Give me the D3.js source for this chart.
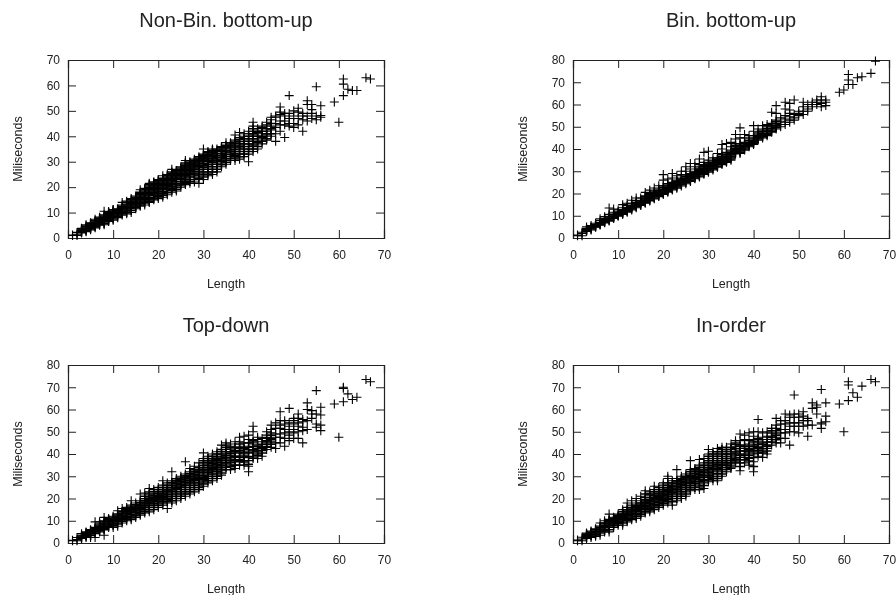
<!DOCTYPE html>
<html>
<head>
<meta charset="utf-8">
<script src="https://cdnjs.cloudflare.com/ajax/libs/d3/7.8.5/d3.min.js"></script>
<style>
  html, body { margin: 0; padding: 0; background: #fff; }
  svg { display: block; filter: blur(0.3px); }
  text { font-family: "Liberation Sans", Arial, sans-serif; fill: #222; }
</style>
</head>
<body>
<svg id="chart" width="896" height="595"></svg>
<script>
// sentence lengths seen on the x axis, one row of timings per length below
var lengths = [1,2,3,4,5,6,7,8,9,10,11,12,13,14,15,16,17,18,19,20,21,22,23,24,25,26,27,28,29,30,
  31,32,33,34,35,36,37,38,39,40,41,42,43,44,45,46,47,48,49,50,51,52,53,54,55,56,59,60,61,62,63,64,66,67];

// the thick middle of each cloud, lengths 3 to 45
var coreLengths = [3,4,5,6,7,8,9,10,11,12,13,14,15,16,17,18,19,20,21,22,23,24,25,26,27,28,29,30,
  31,32,33,34,35,36,37,38,39,40,41,42,43,44,45];

var nonBinMs = [
  [1,1.2],[1,1.5,2.2],[2,2.6,3.2,3.8],[2.5,3.2,4,4.8,5.2],[3.2,4,4.6,5.4,6],
  [4,4.8,5.6,6.4,7.4],[5,5.8,6.6,7.4,8.2],[5.2,6.2,7,7.8,8.6,10.5],[6.5,7.2,8,8.8,9.6,10.4],[7,8,9,9.8,10.6,11.2],
  [8,9,10,10.8,11.5],[9,10,11,12,13,14],[9.5,10.5,11.5,12.5,13.4,14.5],[10,11.5,12.5,13.5,14.5,15.5],[11.5,12.5,13.5,14.5,15.5,16.5],
  [12.5,13.5,14.5,15.5,16.5,17.5,19],[13,14.5,15.5,16.5,17.5,18.5,19.5],[14,15,16.5,17.5,18.5,19.5,20.5,21.5],[15,16,17.5,18.5,19.5,20.5,21.5],[15.5,17,18,19,20,21,22,23],
  [16,17.5,19,20,21,22,23,24.5],[17,18.5,20,21,22,23,24,25],[18,19.5,21,22,23,24,25,27],[18.5,20,21.5,23,24,25,26],[20,21.5,23,24,25,26,27,28],
  [21,22.5,24,25,26,27,28,29,30.5],[21.5,23,25,26,27,28,29,30],[22,24,25.5,27,28,29,30,31],[21.5,24.5,26,27.5,29,30,31,32],[23,25,27,28.5,30,31,32,33,35],
  [24.5,26,28,29.5,31,32,33,34],[25,27,29,30.5,32,33,34,35],[26,28,30,31,32.5,34,35],[28,29.5,31,32.5,34,35,36],[29,30.5,32,33.5,35,36,37.5],
  [30.5,32,33.5,35,36.5,37.5],[30.5,32.5,34,35.5,37,38.5,40.5],[31,33,35,36.5,38,39.5,41.5],[32,34,36,38,40,41],[30,33,35,37,39,41,42],
  [34,36.5,38,40.5,42,44,45.5],[35,37.5,39,41.5,43],[37,39.5,41,43.5,44],[38.5,40.5,42,44.5,45.5],[40,42.5,44,46.5,47.5],
  [38,41,43.5,45,47.5,48],[42,44.5,46,48.5,49.5,51.5],[39.5,44.5,46,48,49],[44,45,47,49,56],[43.5,45,48,50],
  [44.5,47,49.5,51],[42,46.5,48,49],[46,48,52.5,54],[47,49,50.5,52.5],[46.5,48,59.5],[47.5,48.2,52],
  [53.5],[45.5],[56,60.5,62.5],[58.5],[58],[58],[63],[62.5]
];
var nonBinCoreMs = [
  [2.3,2.9,3.5],[2.9,3.6,4.4],[3.6,4.3,5,5.7],[4.4,5.2,6,6.8],[5.4,6.2,7,7.8],
  [5.7,6.6,7.4,8.2,9],[6.8,7.6,8.4,9.2,10],[7.5,8.5,9.4,10.2,11],[8.5,9.5,10.4,11.2],[9.5,10.5,11.5,12.5],
  [10,11,12,13,14],[10.8,12,13,14,15],[12,13,14,15,16],[13,14,15,16,17,18],[13.8,15,16,17,18,19],
  [14.5,15.8,17,18,19,20,21],[15.5,16.8,18,19,20,21,22],[16.2,17.5,18.5,19.5,20.5,21.5,22.5],[16.8,18.2,19.5,20.5,21.5,22.5,23.5],[17.8,19.2,20.5,21.5,22.5,23.5,24.5],
  [18.8,20.2,21.5,22.5,23.5,24.5,25.5,26],[19.2,20.8,22.2,23.5,24.5,25.5,26.5],[20.8,22.2,23.5,24.5,25.5,26.5,27.5],[21.8,23.2,24.5,25.5,26.5,27.5,28.5,29.5],[22.2,24,25.5,26.5,27.5,28.5,29.5],
  [23,24.8,26.2,27.5,28.5,29.5,30.5],[23.5,25.2,26.8,28.2,29.5,30.5,31.5],[24,26,27.8,29.2,30.5,31.5,32.5],[25.2,27,28.8,30.2,31.5,32.5,33.5],[26,28,29.8,31.2,32.5,33.5,34.5],
  [27,29,30.5,31.8,33.2,34.5],[28.8,30.2,31.8,33.2,34.5,35.5],[29.8,31.2,32.8,34.2,35.5,36.5],[31.2,32.8,34.2,35.8,37],[31.5,33.2,34.8,36.2,37.8],
  [32,34,35.8,37.2,38.8],[33,35,37,39],[34,36,38,40],[35,37,39,41,43],[36,38,40,42],
  [38,40,42],[39,41,43],[41,43,45]
];

var binMs = [
  [1,1.3],[1,2,2.6],[3,3.6,4.2,5],[3.6,4.4,5,5.6],[4.8,5.4,6,6.6],
  [5.8,6.4,7,7.8,8.6],[6.8,7.4,8,8.8,9.6],[7.6,8.4,9,9.8,10.6,13.5],[8.8,9.4,10,10.8,11.6,13],[9.8,10.4,11,11.8,12.6],
  [10.6,11.4,12,12.8,13.6,15],[11.6,12.4,13,13.8,14.6,15.6],[12.6,13.4,14,14.8,15.6,17],[13.6,14.4,15.2,16,16.8,18],[14.6,15.4,16.2,17,18],
  [15.6,16.4,17.2,18,19,20.5],[16.6,17.4,18.2,19,20,21.5],[17.6,18.4,19.2,20,21,22.5],[18.6,19.4,20.2,21,22,23.5],[19.6,20.4,21.2,22,23.5,26,28.5],
  [20.6,21.4,22.2,23,24.5,26.5],[21.6,22.4,23.2,24,25,27,29],[22.4,23.4,24.2,25,26,28],[23.4,24.4,25.2,26,27,28.5,30],[24.4,25.4,26.2,27,28,30,32],
  [25.4,26.4,27.2,28,29,31,33.5],[26.6,27.4,28.2,29,30,32,33.5],[27.4,28.4,29.4,30.4,31.4,33,35.5],[28.6,29.6,30.6,31.6,32.6,34,38.5],[29.6,30.6,31.6,32.6,33.6,35,39],
  [30.6,31.6,32.6,33.6,34.6,36],[31.8,32.8,33.8,34.8,36,38],[33,34,35,36,37.5,40,42],[34,35,36,37,38.5,42.5],[35,36,37,38,39.5,41,43],
  [37.8,38.8,39.8,41,42.5,44.5,46.5],[38,39,40,41,42.5,45,49.5],[39.5,40.5,41.5,43,45,46.5],[41,42,43,44.5,46],[42,43,44,46,48,50.5],
  [44,45,46,47.5,49],[45,46,47,48.5,50.5],[46,47,48.5,50,51],[47.5,48.5,50,51.5,56.5],[49,50,51.5,53,56,59.5],
  [50,51,52.5,54],[51,52,53.5,55,58,61],[52,53,54.5,56,57.5,60.5],[53,54,55.5,62],[55,56,57],
  [55.5,57,59,61],[57,58,60],[59,60,61],[60,61,62],[59,60.5,62,63.5],[59.5,61,62],
  [65.5],[66.5],[69,71,73.5],[69],[72],[72.5],[74],[79.5]
];
var binCoreMs = [
  [3.3,3.9],[4,4.7],[5.1,5.7],[6.1,6.7],[7.1,7.7,8.4],
  [8,8.7,9.4],[9.1,9.7,10.4],[10.1,10.7,11.4],[11,11.7,12.4],[12,12.7,13.4],
  [13,13.7,14.4],[14,14.8,15.6],[15,15.8,16.6],[16,16.8,17.6,18.5],[17,17.8,18.6,19.5],
  [18,18.8,19.6,20.5],[19,19.8,20.6,21.5],[20,20.8,21.6,22.8],[21,21.8,22.6,23.8],[22,22.8,23.6,24.5],
  [22.9,23.8,24.6,25.5],[23.9,24.8,25.6,26.5],[24.9,25.8,26.6,27.5],[25.9,26.8,27.6,28.5],[27,27.8,28.6,29.5],
  [27.9,28.9,29.9,30.9],[29.1,30.1,31.1,32.1],[30.1,31.1,32.1,33.1],[31.1,32.1,33.1,34.1],[32.3,33.3,34.3,35.4],
  [33.5,34.5,35.5,36.7],[34.5,35.5,36.5,37.7],[35.5,36.5,37.5,38.7],[38.3,39.3,40.3,41.7],[38.5,39.5,40.5,41.7],
  [40,41,42.2],[41.5,42.5,43.7],[42.5,43.5,45],[44.5,45.5,46.7],[45.5,46.5,47.7],
  [46.5,47.7,49.2],[48,49.2,50.7],[49.5,50.7,52.2]
];

var topDownMs = [
  [1,1.2],[1,1.5,2.5],[2,2.8,3.5,4.2],[2.5,3.4,4.2,5],[2.5,4,5,6],
  [2.5,4.8,5.8,7,9.5],[5,6,7,8,9.5],[3.5,6.5,8,9,10,11.5],[7,8,9,10,11],[7,8.5,9.6,10.6,11.6,12],
  [7.5,9.5,10.6,11.6,12.6,14.5],[9,10.5,11.6,12.6,13.6,15.5],[10,11.5,12.6,13.6,14.6,16],[10.5,12,13.5,14.5,15.5,17,19],[11.5,13,14.5,15.5,16.5,18],
  [12.5,14,15.5,16.5,17.5,19,22],[13.5,15,16.5,17.5,18.5,20,22.5],[14,16,17.5,18.5,19.5,21,23,24.5],[15,17,18.5,19.5,20.5,22,24],[16,18,19.5,20.5,21.5,23,25],
  [17,19,20.5,21.5,22.5,24,26,28],[15.5,19.5,21,22.5,23.5,25,27],[18,20,22,23.5,25,26.5,28,32],[19,21,23,24.5,26,27.5,29],[20,22,24,25.5,27,28.5,30],
  [21,23,25,26.5,28,29.5,31,36.5],[22,24,26,27.5,29,30.5,32,33.5],[23,25,27,28.5,30,31.5,33,34.5],[24,26,28,29.5,31,32.5,34,36],[25.5,27.5,29.5,31,32.5,34,36,38,40.5],
  [27,29,31,32.5,34,35.5,37,39],[28,30,32,33.5,35,36.5,38,40],[29,31,33,34.5,36,37.5,39,41],[30.5,32.5,34,35.5,37,39,41,44],[33,35,37,38.5,40,42,44,45],
  [33,35.5,37,39.5,41,43.5,44.5],[33.5,35,37.5,39,41.5,43,45.5],[35,37.5,39,41.5,43,45.5,47.5],[35,37,39.5,41,43.5,45,48],[32,34.5,37,40.5,43,46.5,48.5],
  [38,40.5,42,44.5,46,50,52.5],[38,40,42.5,44,46.5,47.5],[39,41.5,43,45.5,47],[42,44.5,46,48.5,50],[43,45.5,47,49.5,51,53],
  [42.5,45,47.5,49,51.5,54],[45,47.5,49,51.5,53,55,59],[43.5,47,49.5,51,53.5,55],[46,48.5,50,52.5,54,60.5],[47,49.5,51,53.5,55,56],
  [47,50,52.5,54,56,58],[45,50.5,52,54.5,55.5],[51,55,60,63],[56,58,59.5],[52,53.5,58,68.5],[50.5,53,57.5,61],
  [62.5],[47.5],[63.5,69.5,70],[67],[64.5],[65.5],[73.5],[72.5]
];
var topDownCoreMs = [
  [2.4,3.1],[3,3.8,4.6],[3.4,4.5,5.5],[4.3,5.3,6.4],[5.5,6.5,7.5,8.5],
  [6,7.2,8.5,9.5],[7.5,8.5,9.5,10.5],[8,9,10.1,11.1],[8.5,10,11.1,12.1,13],[9.8,11,12.1,13.1,14.2],
  [10.8,12,13.1,14.1,15.2],[11.2,12.8,14,15,16.2],[12.2,13.8,15,16,17.2],[13.2,14.8,16,17,18.2],[14.2,15.8,17,18,19.2,21],
  [15,16.8,18,19,20.2,22],[16,17.8,19,20,21.2,23],[17,18.8,20,21,22.2,24],[18,19.8,21,22,23.2,25],[18.5,20.2,21.8,23,24.2,26],
  [19,21,23,24.2,25.8,27.2],[20,22,24,25.2,26.8,28.2],[21,23,25,26.2,27.8,29.2],[22,24,26,27.2,28.8,30.2],[23,25,27,28.2,29.8,31.2],
  [24,26,28,29.2,30.8,32.2],[25,27,29,30.2,31.8,33.2],[26.5,28.5,30.2,31.8,33.2,35,37],[28,30,31.8,33.2,34.8,36.2,38],[29,31,32.8,34.2,35.8,37.2,39],
  [30,32,33.8,35.2,36.8,38.2,40],[31.5,33.2,34.8,36.2,38,40,42],[34,36,37.8,39.2,41,43],[34.3,36.3,38.3,40.3,42.3],[35,37,39,41,43],
  [36.5,38.5,40.5,42.5,44.5],[36.4,38.4,40.4,42.4],[35.4,38.9,41.9,44.9],[38.6,41.4,43.4,45.4],[39.4,41.4,43.4],
  [40.4,42.4,44.4],[43.4,45.4,47.4],[44.4,46.4,48.4]
];

var inOrderMs = [
  [1,1.3],[1,1.8,2.6],[2,3,3.8,4.5],[2.5,3.6,4.6,5.4],[3,4.4,5.4,6.4],
  [3.5,5.2,6.4,7.6,9],[5,6.2,7.4,8.6,10],[5,7,8.4,9.6,10.6,13],[7,8.4,9.6,10.6,11.6],[8,9.2,10.4,11.4,12.4,13],
  [8,10,11.4,12.4,13.4,15],[9.5,11,12.4,13.4,14.4,16,18],[10.5,12,13.4,14.4,15.4,17,19],[11,12.5,14,15.2,16.4,18,20],[12,13.5,15,16.2,17.4,19,21],
  [13.5,15,16.4,17.6,18.8,20.5,23.5],[14,15.5,17,18.4,19.6,21.5,23],[15,16.5,18,19.4,20.6,22,24,25.5],[16,17.5,19,20.4,21.6,23,25],[17,18.5,20,21.4,22.6,24,26,27],
  [18,19.5,21,22.4,23.6,25,27,29,30],[17,20,22,23.4,24.6,26,28],[19,21,23,24.6,26,27.5,29,33],[20,22,24,25.6,27,28.5,30],[21,23,25,26.6,28,29.5,31],
  [23.5,25,26.6,28,29.5,31,33,37],[24,26,27.6,29,30.5,32,33.5],[24,26.5,28.6,30,31.5,33,35,37.5],[24.5,27,29.5,31,32.5,34,36,38],[27.5,29.5,31,32.5,34,36,38,40,42],
  [28,30,32,33.5,35,37,39,41],[28,30,32.5,34.5,36,38,40,42.5],[30,32,34,35.5,37,39,41,43],[32,34,35.5,37,39,41,43],[33.5,35,37,39,41,43,44.5],
  [36,37.5,39.5,41,43.5,45,46],[32.5,36,38.5,40,42.5,44,46,49],[36,38.5,40,42.5,44,46.5,48.5],[35,38,40.5,42,44.5,46,49.5],[32,36.5,40,42.5,44,46.5,48,50],
  [39,41.5,43,45.5,47,50,55.5],[38.5,41,43.5,45,47.5,49.5],[40,42.5,44,46.5,48,50],[44,46.5,48,50.5,51.5],[45,47.5,49,51.5,53,56],
  [45,47,49.5,51,53.5,55],[47,49.5,51,53.5,55,58],[44,50,52.5,54,56.5,57.5],[50,52.5,54,56.5,58,66.5],[49.5,52.5,54,56.5,58],
  [52.5,55,57,59],[48,53,55,56],[53,60.5,63],[58,61,62],[51.5,53.5,54,69],[54.5,57,63],
  [62.5],[50],[64,71,72.5],[67.5],[65.5],[70.5],[73.5],[72.5]
];
var inOrderCoreMs = [
  [2.5,3.4,4.1],[3.1,4.1,5],[3.7,4.9,5.9],[4.5,5.8,7],[5.6,6.8,8,9],
  [6,7.7,9,10.1],[7.7,9,10.1,11.1],[8.6,9.8,10.9,11.9],[9,10.7,11.9,12.9,14],[10.2,11.7,12.9,13.9,15],
  [11.2,12.7,13.9,14.9,16],[11.8,13.2,14.6,15.8,17],[12.8,14.2,15.6,16.8,18],[14.2,15.7,17,18.2,19.5,22],[14.8,16.2,17.7,19,20.5,22],
  [15.8,17.2,18.7,20,21.3,23],[16.8,18.2,19.7,21,22.3,24],[17.8,19.2,20.7,22,23.3,25],[18.8,20.2,21.7,23,24.3,26],[18.5,21,22.7,24,25.3,27],
  [20,22,23.8,25.3,26.8,28],[21,23,24.8,26.3,27.8,29],[22,24,25.8,27.3,28.8,30],[24.2,25.8,27.3,28.8,30.2,32],[25,26.8,28.3,29.8,31.2,32.8],
  [25.2,27.5,29.3,30.8,32.2,34],[25.8,28.2,30.2,31.8,33.2,35],[28.5,30.2,31.8,33.2,35,37,39],[29,31,33,34.2,36,38,40],[29,31.2,33.5,35.2,37,39,41],
  [31,33,35,36.2,38,40,42],[33,35,36.2,38,40,42],[34.2,36,38,40,42],[36.8,38.2,40.4,42.4,44.4],[34.4,37.4,39.4,41.4,43.4],
  [37.4,39.4,41.4,43.4],[36.9,39.4,41.4,43.4],[34.4,38.4,41.4,43.4,45.4],[40.4,42.4,44.4,46.4],[40.4,42.4,44.4],
  [41.4,43.4,45.4],[45.4,47.4,49.4],[46.4,48.4,50.4]
];

var xTicks = [0,10,20,30,40,50,60,70];
var yTicksTo70 = [0,10,20,30,40,50,60,70];
var yTicksTo80 = [0,10,20,30,40,50,60,70,80];

var panels = [
  {title: "Non-Bin. bottom-up", ms: nonBinMs, core: nonBinCoreMs, yMax: 70, yTicks: yTicksTo70, left: 68, top: 60},
  {title: "Bin. bottom-up", ms: binMs, core: binCoreMs, yMax: 80, yTicks: yTicksTo80, left: 573, top: 60},
  {title: "Top-down", ms: topDownMs, core: topDownCoreMs, yMax: 80, yTicks: yTicksTo80, left: 68, top: 365},
  {title: "In-order", ms: inOrderMs, core: inOrderCoreMs, yMax: 80, yTicks: yTicksTo80, left: 573, top: 365}
];

var plotW = 316, plotH = 178;
var tick = 8;
var ink = "#222";

var svg = d3.select("#chart");

function drawPanel(p) {
  var g = svg.append("g").attr("transform", "translate(" + p.left + "," + p.top + ")");
  var x = d3.scaleLinear().domain([0, 70]).range([0, plotW]);
  var y = d3.scaleLinear().domain([0, p.yMax]).range([plotH, 0]);

  // gnuplot style: ticks point inwards on all four sides, labels only left and bottom
  g.append("g").attr("transform", "translate(0," + plotH + ")")
    .call(d3.axisBottom(x).tickValues(xTicks).tickSize(-tick).tickPadding(12).tickFormat(d3.format("d")));
  g.append("g")
    .call(d3.axisTop(x).tickValues(xTicks).tickSize(-tick).tickFormat(""));
  g.append("g")
    .call(d3.axisLeft(y).tickValues(p.yTicks).tickSize(-tick).tickPadding(8).tickFormat(d3.format("d")));
  g.append("g").attr("transform", "translate(" + plotW + ",0)")
    .call(d3.axisRight(y).tickValues(p.yTicks).tickSize(-tick).tickFormat(""));

  g.selectAll(".domain").attr("stroke", ink).attr("stroke-width", 1.2);
  g.selectAll(".tick line").attr("stroke", ink).attr("stroke-width", 1);
  g.selectAll(".tick text").style("font-size", "12px");

  var pts = [];
  lengths.forEach(function(len, i) {
    p.ms[i].forEach(function(v) { pts.push({len: len, v: v, w: 1.1}); });
  });
  // overplotted crosses merge into a solid band in the original, so these run heavier
  coreLengths.forEach(function(len, i) {
    p.core[i].forEach(function(v) { pts.push({len: len, v: v, w: 1.5}); });
  });

  g.selectAll("path.pt").data(pts).enter().append("path")
    .attr("class", "pt")
    .attr("d", "M-4.5,0H4.5M0,-4.5V4.5")
    .attr("transform", function(d) { return "translate(" + x(d.len) + "," + y(d.v) + ")"; })
    .attr("fill", "none")
    .attr("stroke", "#000")
    .attr("stroke-width", function(d) { return d.w; });

  g.append("text")
    .attr("x", plotW / 2).attr("y", -40)
    .attr("text-anchor", "middle").attr("dominant-baseline", "central")
    .style("font-size", "20px").text(p.title);

  g.append("text")
    .attr("x", plotW / 2).attr("y", plotH + 46)
    .attr("text-anchor", "middle").attr("dominant-baseline", "central")
    .style("font-size", "12.5px").text("Length");

  g.append("text")
    .attr("transform", "translate(-50," + (plotH / 2) + ") rotate(-90)")
    .attr("text-anchor", "middle").attr("dominant-baseline", "central")
    .style("font-size", "12.5px").text("Miliseconds");
}

panels.forEach(drawPanel);
</script>
</body>
</html>
